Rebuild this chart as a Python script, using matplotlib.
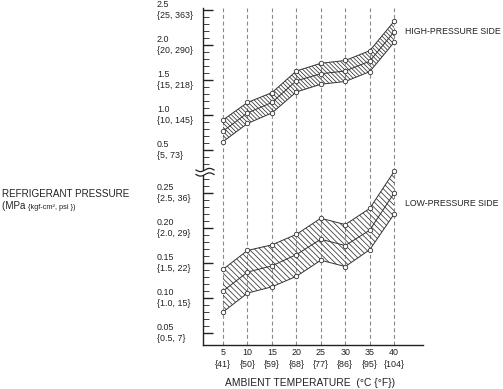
import numpy as np
import matplotlib
matplotlib.use("Agg")
import matplotlib.pyplot as plt
from matplotlib.transforms import blended_transform_factory
from matplotlib.patches import Polygon

plt.rcParams['font.family'] = ['Liberation Sans', 'DejaVu Sans']
plt.rcParams['hatch.linewidth'] = 0.55

# ---- data ----
temps = [5, 10, 15, 20, 25, 30, 35, 40]
temps_f = [41, 50, 59, 68, 77, 86, 95, 104]
high_upper = [0.93, 1.18, 1.32, 1.63, 1.74, 1.78, 1.92, 2.34]
high_mid = [0.77, 1.03, 1.18, 1.49, 1.59, 1.63, 1.77, 2.19]
high_lower = [0.62, 0.88, 1.03, 1.33, 1.44, 1.48, 1.62, 2.04]
low_upper = [0.141, 0.168, 0.176, 0.191, 0.214, 0.205, 0.228, 0.281]
low_mid = [0.110, 0.137, 0.146, 0.162, 0.184, 0.175, 0.197, 0.250]
low_lower = [0.080, 0.107, 0.116, 0.131, 0.154, 0.145, 0.169, 0.220]
high_ticks = [0.5, 1.0, 1.5, 2.0, 2.5]
high_labels = ["0.5\n{5, 73}", "1.0\n{10, 145}", "1.5\n{15, 218}", "2.0\n{20, 290}", "2.5\n{25, 363}"]
low_ticks = [0.05, 0.10, 0.15, 0.20, 0.25]
low_labels = ["0.05\n{0.5, 7}", "0.10\n{1.0, 15}", "0.15\n{1.5, 22}", "0.20\n{2.0, 29}", "0.25\n{2.5, 36}"]

# broken axis mapping
HIGH_OFF = 6.23
def ylow(p):
    return np.asarray(p, dtype=float) / 0.05
def yhigh(p):
    return HIGH_OFF + (np.asarray(p, dtype=float) - 0.5) / 0.5

W, H = 503, 389
fig = plt.figure(figsize=(W / 100, H / 100), dpi=100)
ax = fig.add_axes([203 / W, 1 - 345 / H, (423 - 203) / W, (345 - 8) / H])
ax.set_xlim(0.9, 45.9)
ax.set_ylim(0.657, 10.29)
for s in ['top', 'right']:
    ax.spines[s].set_visible(False)
for s in ['left', 'bottom']:
    ax.spines[s].set_linewidth(1.0)
    ax.spines[s].set_color('#222')

# grid
ax.vlines(temps, 0.657, 10.29, colors='#888', linestyles=(0, (3.5, 2.5)), linewidth=0.8, zorder=1)

ink = '#333'
def band(lo, mid, up, hatch):
    ax.fill_between(temps, lo, up, facecolor='none', edgecolor=ink, hatch=hatch, linewidth=0, zorder=2)
    for arr in (lo, mid, up):
        ax.plot(temps, arr, color=ink, lw=0.7, marker='o', ms=3.2, mfc='white', mec=ink, mew=0.6, zorder=3)

band(yhigh(high_lower), yhigh(high_mid), yhigh(high_upper), '\\' * 8)
band(ylow(low_lower), ylow(low_mid), ylow(low_upper), '\\' * 6)

# y ticks
major = list(yhigh(high_ticks)) + list(ylow(low_ticks))
minor = [yhigh(v / 10) for v in range(3, 25) if v % 5 != 0] + \
        [ylow(v / 100) for v in range(6, 28) if v % 5 != 0]
ax.set_yticks(major)
ax.set_yticks(minor, minor=True)
ax.set_yticklabels([])
ax.tick_params(axis='y', which='major', direction='in', length=7, width=1.0, color='#222')
ax.tick_params(axis='y', which='minor', direction='in', length=4.3, width=0.6, color='#222')
ax.set_xticks([])

tr = blended_transform_factory(fig.transFigure, ax.transData)
for v, lab in zip(list(yhigh(high_ticks)) + list(ylow(low_ticks)), high_labels + low_labels):
    ax.text(157 / W, v, lab, transform=tr, ha='left', va='center', fontsize=6.4,
            linespacing=1.2, color='#222')

trx = blended_transform_factory(ax.transData, fig.transFigure)
for t, f in zip(temps, temps_f):
    ax.text(t, 1 - 358.5 / H, f"{t}\n{{{f}}}", transform=trx, ha='center', va='center',
            fontsize=6.4, linespacing=1.45, color='#222')

fig.text(310 / W, 1 - 383 / H, "AMBIENT TEMPERATURE  (°C {°F})", ha='center', va='center',
         fontsize=7.4, color='#222')
fig.text(405 / W, 1 - 32 / H, "HIGH-PRESSURE SIDE", ha='left', va='center', fontsize=6.3, color='#222')
fig.text(405 / W, 1 - 203 / H, "LOW-PRESSURE SIDE", ha='left', va='center', fontsize=6.3, color='#222')

fig.text(2 / W, 1 - 194 / H, "REFRIGERANT PRESSURE", ha='left', va='center', fontsize=7.1, color='#222')
t1 = fig.text(2 / W, 1 - 209 / H, "(MPa ", ha='left', va='baseline', fontsize=7.1, color='#222')
ax.annotate("{kgf-cm², psi })", xy=(1, 0), xycoords=t1, ha='left', va='bottom',
            fontsize=5.3, color='#222', annotation_clip=False)

# axis break symbol
xs = np.linspace(196, 214, 60)
ys_top = 170.0 + 1.6 * np.sin(2 * np.pi * (xs - 196) / 18.0)
ys_bot = 174.5 + 1.6 * np.sin(2 * np.pi * (xs - 196) / 18.0)
fig.add_artist(Polygon(np.column_stack([np.r_[xs, xs[::-1]] / W, 1 - np.r_[ys_top, ys_bot[::-1]] / H]),
                       closed=True, facecolor='white', edgecolor='none', zorder=10))
for ys in (ys_top, ys_bot):
    fig.add_artist(plt.Line2D(xs / W, 1 - ys / H, color='#222', lw=0.9, zorder=11))

fig.savefig("out.png", dpi=100)
